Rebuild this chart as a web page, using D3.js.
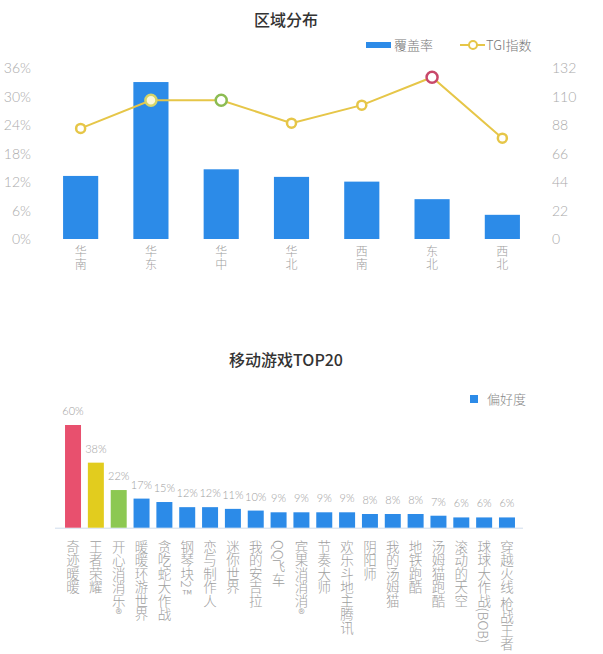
<!DOCTYPE html>
<html>
<head>
<meta charset="utf-8">
<script src="https://cdn.jsdelivr.net/npm/d3@7"></script>
<style>
  body { margin: 0; background: #fff; }
  text { font-family: "Noto Sans CJK SC Light", "Noto Sans CJK SC", "Noto Sans", sans-serif; }
  .num { font-family: Lato, "Open Sans", sans-serif; }
</style>
</head>
<body>
<svg id="chart"></svg>
<script>
// region chart data
const regions = ["华南", "华东", "华中", "华北", "西南", "东北", "西北"];
const coverage = [13.3, 33.1, 14.7, 13.1, 12.1, 8.4, 5.1];
const tgi = [85.5, 107.3, 107.3, 89.6, 103.5, 125.1, 78];
const leftTicks = [0, 6, 12, 18, 24, 30, 36];
const rightTicks = [0, 22, 44, 66, 88, 110, 132];

// game chart data
const games = [
  "奇迹暖暖", "王者荣耀", "开心消消乐®", "暖暖环游世界", "贪吃蛇大作战",
  "钢琴块2™", "恋与制作人", "迷你世界", "我的安吉拉", "QQ飞车",
  "宾果消消消®", "节奏大师", "欢乐斗地主腾讯", "阴阳师", "我的汤姆猫",
  "地铁跑酷", "汤姆猫跑酷", "滚动的天空", "球球大作战(BOB)", "穿越火线 枪战王者"
];
const preference = [60, 38, 22, 17, 15, 12, 12, 11, 10, 9, 9, 9, 9, 8, 8, 8, 7, 6, 6, 6];

const W = 603, H = 654;
const blue = "#2c8be8";
const lineColor = "#e6c648";
const markerStroke = { "华东": "#d6d468", "华中": "#8cbc52", "东北": "#c8486a" };
const barColors = ["#e8506e", "#e2cc1e", "#8cc852"];

const svg = d3.select("#chart").attr("width", W).attr("height", H);

// ---------- top: 区域分布 ----------
const regionG = svg.append("g");

regionG.append("text")
  .attr("x", 286).attr("y", 26)
  .attr("text-anchor", "middle")
  .style("font-family", "'Noto Sans CJK SC', sans-serif")
  .style("font-size", "16px").style("font-weight", 500)
  .attr("fill", "#333")
  .text("区域分布");

const x = d3.scaleBand().domain(regions).range([45.5, 537.5])
  .paddingInner(0.5).paddingOuter(0.25);
const yL = d3.scaleLinear().domain([0, 36]).range([239, 68.3]);
const yR = d3.scaleLinear().domain([0, 132]).range([239, 68.3]);

const leftAxis = regionG.append("g")
  .attr("transform", "translate(33,0)")
  .call(d3.axisLeft(yL).tickValues(leftTicks).tickSize(0).tickPadding(2).tickFormat((d) => d + "%"));
const rightAxis = regionG.append("g")
  .attr("transform", "translate(550,0)")
  .call(d3.axisRight(yR).tickValues(rightTicks).tickSize(0).tickPadding(2));
[leftAxis, rightAxis].forEach((a) => {
  a.select(".domain").remove();
  a.selectAll("text")
    .attr("class", "num")
    .attr("font-family", null)
    .style("font-size", "14px").style("font-weight", 300)
    .attr("fill", "#aaa");
});

regionG.selectAll(".bar")
  .data(regions)
  .enter()
  .append("rect")
  .attr("class", "bar")
  .attr("x", (d) => x(d))
  .attr("width", x.bandwidth())
  .attr("y", (d, i) => yL(coverage[i]))
  .attr("height", (d, i) => yL(0) - yL(coverage[i]))
  .attr("fill", blue);

const line = d3.line()
  .x((d, i) => x(regions[i]) + x.bandwidth() / 2)
  .y((d) => yR(d));

regionG.append("path")
  .datum(tgi)
  .attr("d", line)
  .attr("fill", "none")
  .attr("stroke", lineColor)
  .attr("stroke-width", 2);

regionG.selectAll(".dot")
  .data(tgi)
  .enter()
  .append("circle")
  .attr("class", "dot")
  .attr("cx", (d, i) => x(regions[i]) + x.bandwidth() / 2)
  .attr("cy", (d) => yR(d))
  .attr("r", (d, i) => (markerStroke[regions[i]] ? 5.5 : 4.5))
  .attr("fill", (d, i) => (regions[i] === "华东" ? "#fdf8d8" : "#fff"))
  .attr("stroke", (d, i) => markerStroke[regions[i]] || lineColor)
  .attr("stroke-width", 2.5);

regionG.selectAll(".xlabel")
  .data(regions)
  .enter()
  .append("text")
  .attr("class", "xlabel")
  .attr("x", (d) => x(d) + x.bandwidth() / 2)
  .attr("y", 245.5)
  .style("writing-mode", "vertical-rl")
  .style("font-size", "12px").style("font-weight", 300)
  .style("letter-spacing", "1px")
  .attr("fill", "#a0a0a0")
  .text((d) => d);

// legend
regionG.append("rect")
  .attr("x", 366).attr("y", 42).attr("width", 25).attr("height", 6)
  .attr("fill", blue);
regionG.append("text")
  .attr("x", 394).attr("y", 50)
  .style("font-size", "13px").style("font-weight", 300)
  .attr("fill", "#777")
  .text("覆盖率");
regionG.append("line")
  .attr("x1", 460).attr("x2", 485).attr("y1", 45).attr("y2", 45)
  .attr("stroke", lineColor).attr("stroke-width", 2);
regionG.append("circle")
  .attr("cx", 473).attr("cy", 45).attr("r", 4)
  .attr("fill", "#fff").attr("stroke", lineColor).attr("stroke-width", 2);
regionG.append("text")
  .attr("x", 486).attr("y", 50)
  .style("font-size", "13px").style("font-weight", 300)
  .attr("fill", "#777")
  .text("TGI指数");

// ---------- bottom: 移动游戏TOP20 ----------
const gameG = svg.append("g");

gameG.append("text")
  .attr("x", 286).attr("y", 366)
  .attr("text-anchor", "middle")
  .style("font-family", "'Noto Sans CJK SC', sans-serif")
  .style("font-size", "16px").style("font-weight", 500)
  .attr("fill", "#333")
  .text("移动游戏TOP20");

const x2 = d3.scaleBand().domain(games).range([61.6, 518.4])
  .paddingInner(0.3).paddingOuter(0.15);
const y2 = d3.scaleLinear().domain([0, 60]).range([527.7, 425]);

gameG.append("line")
  .attr("x1", 55).attr("x2", 523)
  .attr("y1", y2(0) + 0.5).attr("y2", y2(0) + 0.5)
  .attr("stroke", "#cfdcec").attr("stroke-width", 1);

gameG.selectAll(".gbar")
  .data(games)
  .enter()
  .append("rect")
  .attr("class", "gbar")
  .attr("x", (d) => x2(d))
  .attr("width", x2.bandwidth())
  .attr("y", (d, i) => y2(preference[i]))
  .attr("height", (d, i) => y2(0) - y2(preference[i]))
  .attr("fill", (d, i) => barColors[i] || blue);

gameG.selectAll(".val")
  .data(games)
  .enter()
  .append("text")
  .attr("class", "val num")
  .attr("x", (d) => x2(d) + x2.bandwidth() / 2)
  .attr("y", (d, i) => y2(preference[i]) - 10)
  .attr("text-anchor", "middle")
  .style("font-size", "11px").style("font-weight", 300)
  .attr("fill", "#a0a0a0")
  .text((d, i) => preference[i] + "%");

gameG.selectAll(".glabel")
  .data(games)
  .enter()
  .append("text")
  .attr("class", "glabel")
  .attr("x", (d) => x2(d) + x2.bandwidth() / 2)
  .attr("y", 540)
  .style("writing-mode", "vertical-rl")
  .style("font-size", "13.5px").style("font-weight", 300)
  .attr("fill", "#a0a0a0")
  .text((d) => d);

// legend
gameG.append("rect")
  .attr("x", 470).attr("y", 395).attr("width", 8).attr("height", 8)
  .attr("fill", blue);
gameG.append("text")
  .attr("x", 487).attr("y", 404)
  .style("font-size", "13px").style("font-weight", 300)
  .attr("fill", "#888")
  .text("偏好度");
</script>
</body>
</html>
